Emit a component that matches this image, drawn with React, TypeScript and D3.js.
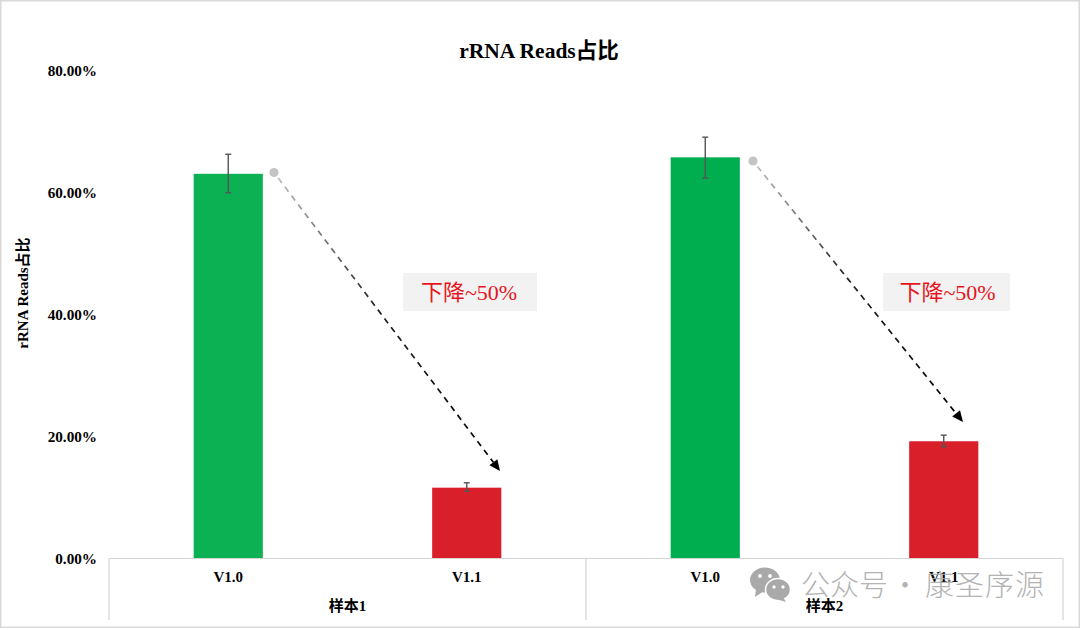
import * as d3 from "d3";

const width = 1080;
const height = 628;
const margin = { top: 70, right: 17, bottom: 69.5, left: 109 };

const samples = ["样本1", "样本2"];
const versions = ["V1.0", "V1.1", "V1.0", "V1.1"];
const values = [63.0, 11.6, 65.7, 19.2];
const errHigh = [66.2, 12.4, 69.0, 20.2];
const errLow = [59.9, 11.0, 62.3, 18.3];
const yTicks = [0, 20, 40, 60, 80];
const barColors = ["#0bb153", "#d9202a", "#00ae50", "#d9202a"];
const dropLabel = "下降~50%";

const latin = "'Liberation Serif', 'Noto Sans CJK SC', serif";

const x = d3
  .scaleBand<number>()
  .domain(d3.range(values.length))
  .range([margin.left, width - margin.right])
  .paddingInner(0.71)
  .paddingOuter(0.355);
const y = d3.scaleLinear().domain([0, 80]).range([height - margin.bottom, margin.top]);
const cx = (i: number) => (x(i) ?? 0) + x.bandwidth() / 2;

// annotation placement, px
const arrows = [
  { id: "a1", x1: 274, y1: 172.5, x2: 500, y2: 471 },
  { id: "a2", x1: 753, y1: 161, x2: 963, y2: 422 },
];
const boxes = [
  { x: 403, w: 134, tx: 469 },
  { x: 883, w: 127, tx: 947.5 },
];

export default function App() {
  const baseY = y(0);
  const step = x.step();
  const groupLines = [margin.left, margin.left + step * 2, margin.left + step * 4];

  return (
    <svg
      width={width}
      height={height}
      viewBox={`0 0 ${width} ${height}`}
      style={{ position: "absolute", left: 0, top: 0, background: "#fff" }}
    >
      <defs>
        {arrows.map((a) => (
          <linearGradient
            key={a.id}
            id={a.id}
            gradientUnits="userSpaceOnUse"
            x1={a.x1}
            y1={a.y1}
            x2={a.x2}
            y2={a.y2}
          >
            <stop offset="0" stopColor="#c4c4c4" />
            <stop offset="0.45" stopColor="#222" />
            <stop offset="1" stopColor="#000" />
          </linearGradient>
        ))}
      </defs>

      <rect x={0.75} y={0.75} width={width - 1.5} height={height - 1.5} fill="none" stroke="#d9d9d9" strokeWidth={1.5} />

      <text x={539} y={57.5} textAnchor="middle" fontFamily={latin} fontWeight="bold" fontSize={21.5} fill="#000">
        rRNA Reads占比
      </text>

      <text
        transform={`translate(28,293) rotate(-90)`}
        textAnchor="middle"
        fontFamily={latin}
        fontWeight="bold"
        fontSize={15}
        fill="#000"
      >
        rRNA Reads占比
      </text>

      {yTicks.map((t) => (
        <text key={t} x={97} y={y(t) + 5.5} textAnchor="end" fontFamily={latin} fontWeight="bold" fontSize={15.2} fill="#000">
          {t.toFixed(2)}%
        </text>
      ))}

      {values.map((v, i) => (
        <rect key={i} x={x(i)} y={y(v)} width={x.bandwidth()} height={baseY - y(v)} fill={barColors[i]} />
      ))}

      {values.map((_, i) => (
        <g key={i} stroke="#555" strokeWidth={1.4}>
          <line x1={cx(i)} x2={cx(i)} y1={y(errHigh[i])} y2={y(errLow[i])} />
          <line x1={cx(i) - 3} x2={cx(i) + 3} y1={y(errHigh[i])} y2={y(errHigh[i])} />
          <line x1={cx(i) - 3} x2={cx(i) + 3} y1={y(errLow[i])} y2={y(errLow[i])} />
        </g>
      ))}

      <line x1={margin.left} x2={width - margin.right} y1={baseY} y2={baseY} stroke="#d4d4d4" strokeWidth={1.2} />
      {groupLines.map((gx) => (
        <line key={gx} x1={gx} x2={gx} y1={baseY} y2={620} stroke="#d4d4d4" strokeWidth={1.2} />
      ))}

      {versions.map((label, i) => (
        <text key={i} x={cx(i)} y={582} textAnchor="middle" fontFamily={latin} fontWeight="bold" fontSize={15} fill="#000">
          {label}
        </text>
      ))}
      {samples.map((s, i) => (
        <text
          key={s}
          x={margin.left + step * (2 * i + 1)}
          y={611}
          textAnchor="middle"
          fontFamily={latin}
          fontWeight="bold"
          fontSize={15}
          fill="#000"
        >
          {s}
        </text>
      ))}

      {arrows.map((a) => {
        const angle = Math.atan2(a.y2 - a.y1, a.x2 - a.x1);
        const deg = (angle * 180) / Math.PI;
        const headLen = 11;
        const sx = a.x1 + 7 * Math.cos(angle);
        const sy = a.y1 + 7 * Math.sin(angle);
        const ex = a.x2 - headLen * Math.cos(angle);
        const ey = a.y2 - headLen * Math.sin(angle);
        const head = d3.line()([
          [0, 0],
          [-headLen, -5],
          [-headLen, 5],
        ]);
        return (
          <g key={a.id}>
            <circle cx={a.x1} cy={a.y1} r={4.6} fill="#c4c4c4" />
            <path
              d={`M${sx},${sy}L${ex},${ey}`}
              stroke={`url(#${a.id})`}
              strokeWidth={1.7}
              strokeDasharray="6 5"
              fill="none"
            />
            <path d={`${head}Z`} transform={`translate(${a.x2},${a.y2}) rotate(${deg})`} fill="#000" />
          </g>
        );
      })}

      {boxes.map((b, i) => (
        <g key={i}>
          <rect x={b.x} y={273} width={b.w} height={38} fill="#f2f2f2" />
          <text x={b.tx} y={300} textAnchor="middle" fontFamily={latin} fontSize={22} fill="#e8141c">
            {dropLabel}
          </text>
        </g>
      ))}

      <g fill="#a9a9a9">
        <ellipse cx={765} cy={580} rx={15} ry={12.5} />
        <path d="M756,589 L755,597 L764,591 Z" />
        <ellipse cx={778} cy={589.5} rx={12.5} ry={11} stroke="#fff" strokeWidth={1.5} />
        <path d="M783,597 L786,602 L776,599 Z" />
        <circle cx={760} cy={576} r={1.9} fill="#fff" />
        <circle cx={770} cy={576} r={1.9} fill="#fff" />
        <circle cx={774} cy={587} r={1.7} fill="#fff" />
        <circle cx={783} cy={587} r={1.7} fill="#fff" />
        <g fontFamily="'Noto Sans CJK SC', sans-serif" fontWeight={300} fontSize={29} fillOpacity={0.9}>
          <text x={801} y={596}>公众号</text>
          <text x={905} y={596} textAnchor="middle">·</text>
          <text x={925} y={596} letterSpacing={1}>康圣序源</text>
        </g>
      </g>
    </svg>
  );
}
